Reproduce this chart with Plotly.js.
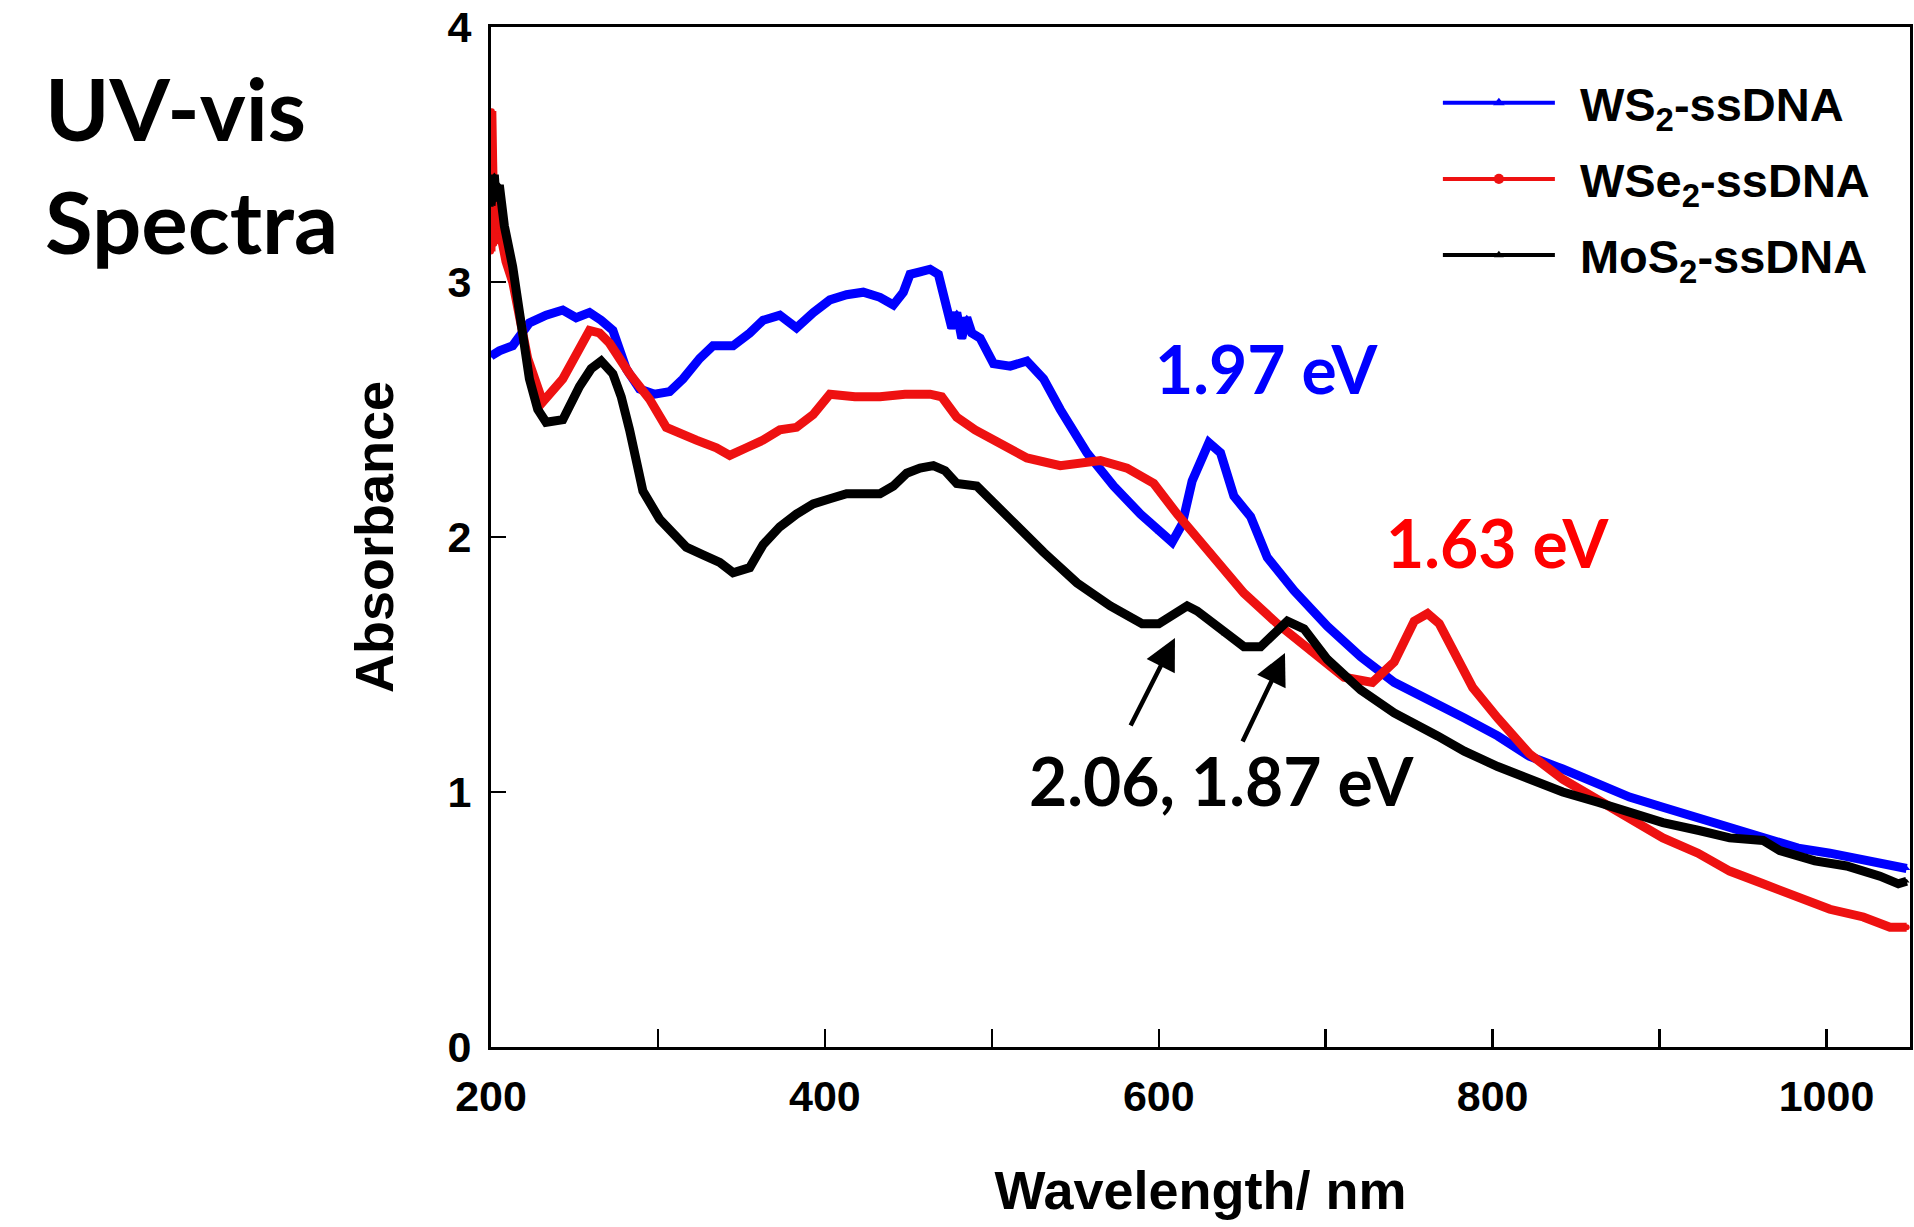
<!DOCTYPE html>
<html>
<head>
<meta charset="utf-8">
<script src="https://cdn.plot.ly/plotly-3.0.1.min.js"></script>
<style>
html,body{margin:0;padding:0;background:#fff;}
#chart{width:1914px;height:1227px;}
</style>
</head>
<body>
<div id="chart"></div>
<script>
// ---- Data ----
var seriesNames = ['WS<sub>2</sub>-ssDNA', 'WSe<sub>2</sub>-ssDNA', 'MoS<sub>2</sub>-ssDNA'];

var ws2Wavelength = [200,205,213,223,233,243,251,259,266,273,281,289,298,307,315,325,333,345,355,363,373,383,393,403,413,423,433,441,447,451,457,463,468,473,476,479,482,485,488,493,501,511,521,531,541,557,573,589,600,608,614,620,630,637,645,655,665,681,701,721,741,763,783,803,822,842,863,882,902,923,942,962,983,1002,1022,1048];
var ws2Absorbance = [2.71,2.73,2.75,2.84,2.87,2.89,2.86,2.88,2.85,2.81,2.66,2.58,2.56,2.57,2.62,2.70,2.75,2.75,2.80,2.85,2.87,2.82,2.88,2.93,2.95,2.96,2.94,2.91,2.96,3.03,3.04,3.05,3.03,2.90,2.82,2.88,2.78,2.86,2.80,2.78,2.68,2.67,2.69,2.62,2.50,2.33,2.20,2.09,2.02,1.98,2.05,2.22,2.37,2.33,2.16,2.08,1.92,1.79,1.65,1.53,1.43,1.36,1.29,1.22,1.14,1.09,1.03,0.98,0.94,0.90,0.86,0.82,0.78,0.76,0.73,0.70];

var wse2Wavelength = [200,200.5,201,202,203,204,206,209,213,222,231,243,251,259,265,271,283,295,305,315,323,335,343,353,363,373,383,393,403,418,433,448,463,470,479,490,501,521,541,555,565,581,597,611,631,651,671,691,711,728,741,753,761,768,773,788,803,822,842,863,882,902,923,942,962,983,1002,1022,1038,1048];
var wse2Absorbance = [3.12,3.67,3.47,3.15,3.33,3.20,3.18,3.08,3.00,2.70,2.53,2.62,2.72,2.81,2.80,2.76,2.64,2.54,2.43,2.40,2.38,2.35,2.32,2.35,2.38,2.42,2.43,2.48,2.56,2.55,2.55,2.56,2.56,2.55,2.47,2.42,2.38,2.31,2.28,2.29,2.30,2.27,2.21,2.09,1.94,1.78,1.66,1.55,1.45,1.43,1.51,1.67,1.70,1.66,1.60,1.41,1.29,1.15,1.05,0.97,0.90,0.82,0.76,0.69,0.64,0.59,0.54,0.51,0.47,0.47];

var mos2Wavelength = [200,201,202,203,205,208,213,218,223,228,233,243,253,260,266,273,278,283,291,301,309,317,327,337,345,355,363,373,383,393,403,413,423,433,441,449,457,465,472,479,491,501,511,531,551,571,590,600,610,617,623,631,639,651,661,669,677,687,701,721,741,767,783,803,822,842,863,882,902,923,942,962,972,993,1012,1032,1043,1048];
var mos2Absorbance = [3.30,3.36,3.42,3.32,3.38,3.22,3.06,2.84,2.62,2.50,2.45,2.46,2.59,2.66,2.69,2.64,2.55,2.42,2.18,2.07,2.01,1.96,1.93,1.90,1.86,1.88,1.97,2.04,2.09,2.13,2.15,2.17,2.17,2.17,2.20,2.25,2.27,2.28,2.26,2.21,2.20,2.14,2.07,1.94,1.82,1.73,1.66,1.66,1.70,1.73,1.71,1.67,1.62,1.57,1.57,1.62,1.67,1.64,1.52,1.40,1.31,1.22,1.16,1.10,1.05,1.00,0.96,0.92,0.88,0.85,0.82,0.81,0.77,0.73,0.71,0.67,0.64,0.65];

var xTickVals = [200, 400, 600, 800, 1000];
var yTickVals = [0, 1, 2, 3, 4];

var peakLabels = ['1.97 eV', '1.63 eV', '2.06, 1.87 eV'];
var peakLabelX = [665, 803, 638];
var peakLabelY = [2.66, 1.98, 1.045];
var peakColors = ['#0000ff', '#ff0000', '#000000'];

// arrows for MoS2 peaks: head (x,y) and tail (ax,ay)
var arrowHeadX = [609.7, 675.6];
var arrowHeadY = [1.604, 1.545];
var arrowTailX = [582.7, 649.8];
var arrowTailY = [1.255, 1.192];

// ---- Plot ----
var AX_FONT = 'Liberation Sans, Arial, sans-serif';
var CAL_FONT = 'Lato, Carlito, Calibri, sans-serif';

var traces = [
  {x: ws2Wavelength, y: ws2Absorbance, name: seriesNames[0], legendgroup: 'a', mode: 'lines+markers',
   line: {color: '#0000ff', width: 9}, marker: {symbol: 'triangle-up', size: 6, color: '#0000ff'}},
  {x: wse2Wavelength, y: wse2Absorbance, name: seriesNames[1], legendgroup: 'b', mode: 'lines+markers',
   line: {color: '#ee1111', width: 9}, marker: {symbol: 'circle', size: 6, color: '#ee1111'}},
  {x: mos2Wavelength, y: mos2Absorbance, name: seriesNames[2], legendgroup: 'c', mode: 'lines+markers',
   line: {color: '#000000', width: 9}, marker: {symbol: 'triangle-up', size: 5, color: '#000000'}}
];

var annotations = [];
for (var i = 0; i < peakLabels.length; i++) {
  annotations.push({x: peakLabelX[i], y: peakLabelY[i], xref: 'x', yref: 'y', text: peakLabels[i],
    showarrow: false, xanchor: 'center', yanchor: 'middle',
    font: {family: CAL_FONT, size: 66, weight: 'bold', color: peakColors[i]}});
}
for (var j = 0; j < arrowHeadX.length; j++) {
  annotations.push({x: arrowHeadX[j], y: arrowHeadY[j], xref: 'x', yref: 'y',
    ax: arrowTailX[j], ay: arrowTailY[j], axref: 'x', ayref: 'y', text: '',
    showarrow: true, arrowhead: 2, arrowsize: 1.4, arrowwidth: 4.5, arrowcolor: '#000000', standoff: 0});
}
annotations.push({x: -0.3157, y: 0.975, xref: 'paper', yref: 'paper', xanchor: 'left', yanchor: 'top',
  align: 'left', showarrow: false, text: 'UV-vis<br>Spectra',
  font: {family: CAL_FONT, size: 87, weight: 'bold', color: '#000000'}});

var layout = {
  width: 1914, height: 1227,
  margin: {l: 491, r: 4, t: 27, b: 180, pad: 0},
  paper_bgcolor: '#ffffff', plot_bgcolor: '#ffffff',
  showlegend: true,
  legend: {x: 0.6687, y: 0.962, xanchor: 'left', yanchor: 'top', bgcolor: 'rgba(0,0,0,0)',
    font: {family: AX_FONT, size: 47, weight: 'bold', color: '#000000'},
    itemwidth: 130, tracegroupgap: 12, traceorder: 'grouped'},
  xaxis: {range: [200, 1050], showgrid: false, zeroline: false,
    showline: true, linecolor: '#000000', linewidth: 3, mirror: true,
    ticks: 'inside', ticklen: 18, tickwidth: 2.5, tickcolor: '#000000',
    tickvals: xTickVals, ticklabelstandoff: 9,
    minor: {dtick: 100, tick0: 200, ticks: 'inside', ticklen: 18, tickwidth: 2.5, tickcolor: '#000000', showgrid: false},
    tickfont: {family: AX_FONT, size: 43, weight: 'bold', color: '#000000'},
    title: {text: 'Wavelength/ nm', standoff: 53, font: {family: AX_FONT, size: 54, weight: 'bold', color: '#000000'}}},
  yaxis: {range: [0, 4], showgrid: false, zeroline: false,
    showline: true, linecolor: '#000000', linewidth: 3, mirror: true,
    ticks: 'inside', ticklen: 15, tickwidth: 2.5, tickcolor: '#000000',
    tickvals: yTickVals, ticklabelstandoff: 8,
    tickfont: {family: AX_FONT, size: 43, weight: 'bold', color: '#000000'},
    title: {text: 'Absorbance', standoff: 37, font: {family: AX_FONT, size: 54, weight: 'bold', color: '#000000'}}},
  annotations: annotations
};

Plotly.newPlot('chart', traces, layout, {displayModeBar: false, staticPlot: true}).then(function () {
  // lengthen legend sample lines to match the reference
  var items = document.querySelectorAll('.legend .traces');
  items.forEach(function (it) {
    var txt = it.querySelector('.legendtext');
    if (!txt) return;
    var tx = parseFloat(txt.getAttribute('x')) || 40;
    var start = tx - 25 - 112;
    var ln = it.querySelector('.legendlines path');
    if (ln) { ln.setAttribute('d', 'M' + start + ',0h112'); ln.style.strokeWidth = '4px'; }
    var pts = it.querySelectorAll('.legendpoints path');
    pts.forEach(function (p) { p.setAttribute('transform', 'translate(' + (start + 56) + ',0) scale(1.7)'); });
  });
});
</script>
</body>
</html>
